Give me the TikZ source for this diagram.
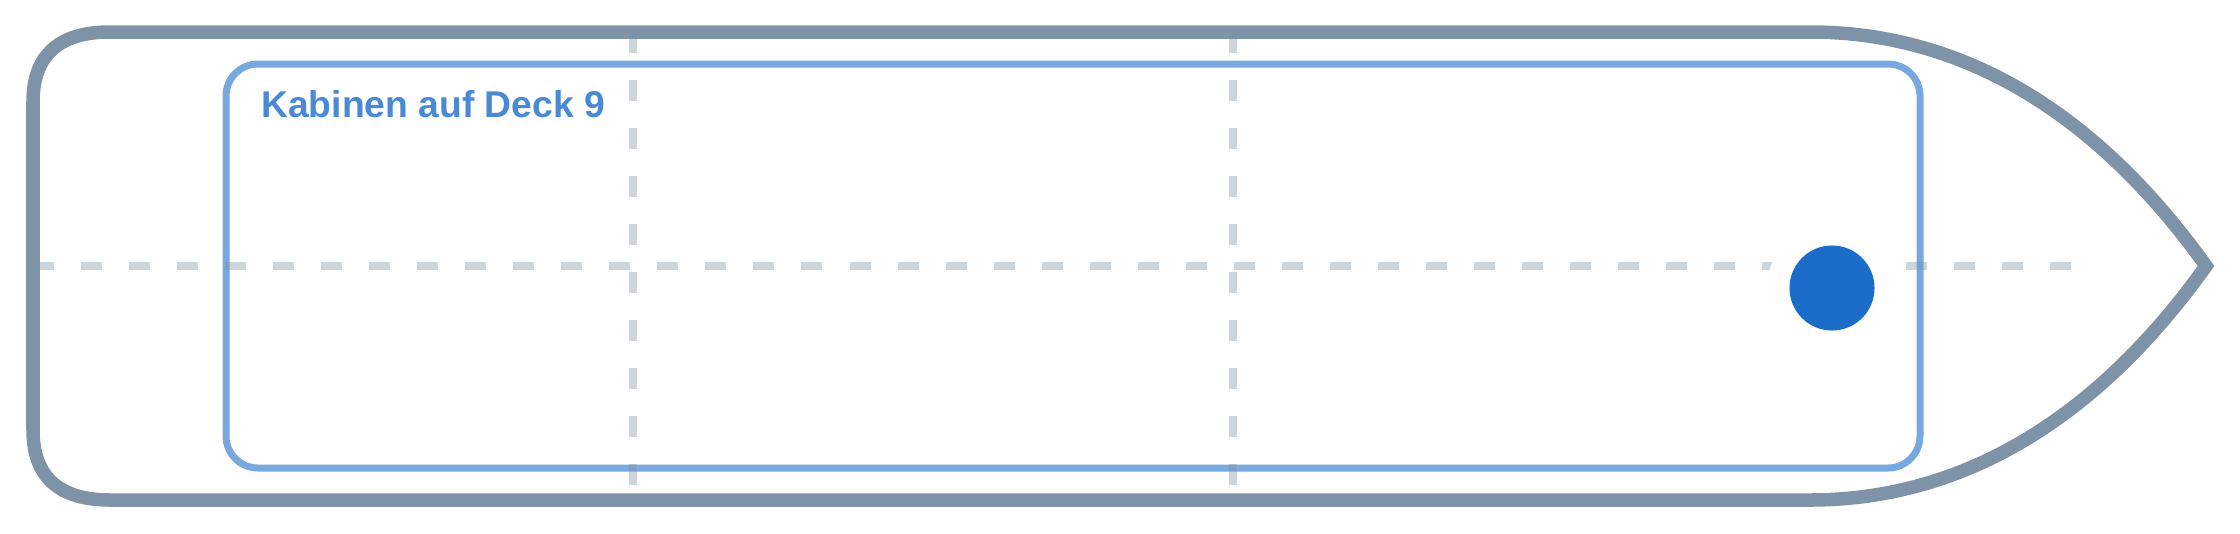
\documentclass[tikz,border=0pt]{standalone}
\usepackage{fontspec}
\setmainfont{Liberation Sans}
\definecolor{hullgray}{HTML}{7F93A8}
\definecolor{cabinblue}{HTML}{77A8DE}
\definecolor{labelblue}{HTML}{4A8AD4}
\definecolor{dotblue}{HTML}{1C6DC9}
\begin{document}
\begin{tikzpicture}[x=0.01cm,y=-0.01cm,
  gridline/.style={draw=hullgray,draw opacity=0.4,line width=0.08cm,dash pattern=on 0.21cm off 0.27cm}]
\useasboundingbox (0,0) rectangle (2240,533);

% Cabin area and its title
\draw[cabinblue,line width=0.07cm,rounded corners=0.32cm] (226,64) rectangle (1920,468);
\node[anchor=base west,inner sep=0,text=labelblue,font=\bfseries\fontsize{10.6pt}{12pt}\selectfont] (title) at (260.6,117.3) {Kabinen auf Deck 9};

% Dashed centre lines
\draw[gridline] (633,32) -- (633,500);
\draw[gridline] (1233,32) -- (1233,500);
\draw[gridline] (33,266) -- (2080,266);

% Position marker with white halo
\node[circle,fill=white,inner sep=0,minimum size=1.3cm] (halo) at (1832,288) {};
\node[circle,fill=dotblue,inner sep=0,minimum size=0.85cm] (marker) at (halo) {};

% Hull outline with pointed bow
\draw[hullgray,line width=0.135cm,line join=miter]
  (110,32) -- (1810,32)
  .. controls (1958,32) and (2093,108) .. (2206,266)
  .. controls (2093,424) and (1958,500) .. (1810,500)
  -- (110,500) .. controls (58.7,500) and (33,476.7) .. (33,430)
  -- (33,102) .. controls (33,55.3) and (58.7,32) .. (110,32) -- cycle;
\end{tikzpicture}
\end{document}
